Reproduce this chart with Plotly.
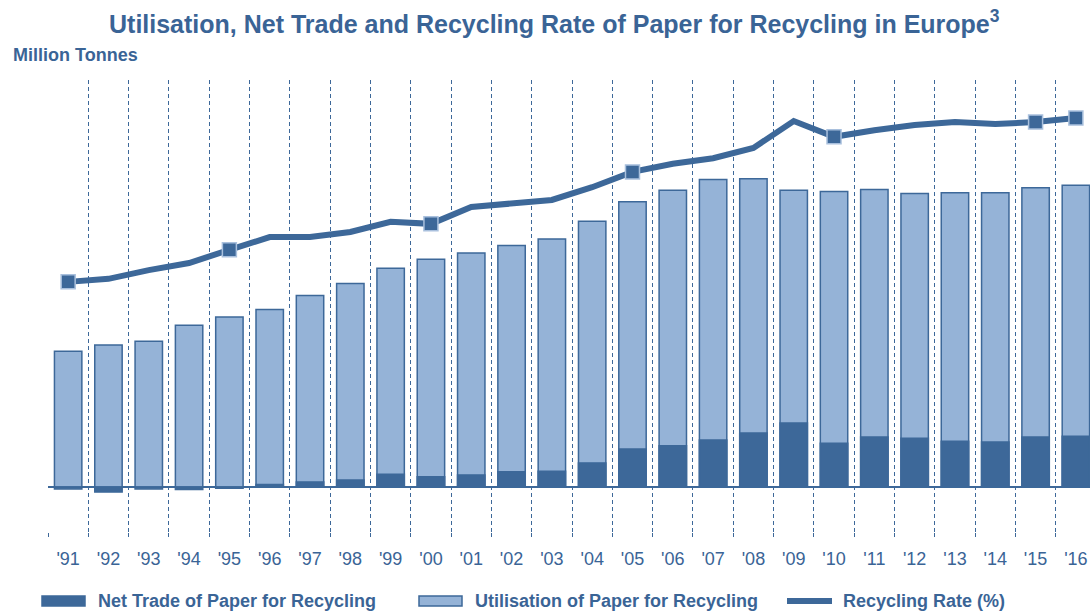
import plotly.graph_objects as go

years = ["'91", "'92", "'93", "'94", "'95", "'96", "'97", "'98", "'99", "'00",
         "'01", "'02", "'03", "'04", "'05", "'06", "'07", "'08", "'09", "'10",
         "'11", "'12", "'13", "'14", "'15", "'16"]
utilisation = [21.4, 22.4, 23.0, 25.5, 26.8, 28.0, 30.2, 32.1, 34.5, 35.9,
               36.9, 38.1, 39.1, 41.9, 45.0, 46.8, 48.5, 48.6, 46.8, 46.6,
               46.9, 46.3, 46.4, 46.4, 47.2, 47.6]
net_trade = [-0.3, -0.8, -0.3, -0.4, -0.2, 0.4, 0.8, 1.1, 2.0, 1.6,
             1.9, 2.4, 2.5, 3.8, 6.0, 6.5, 7.4, 8.5, 10.1, 6.9,
             7.9, 7.7, 7.2, 7.1, 7.9, 8.0]
recycling_rate = [40.3, 40.9, 42.6, 44.0, 46.6, 49.1, 49.1, 50.1, 52.1, 51.7,
                  55.0, 55.8, 56.4, 58.9, 61.9, 63.5, 64.6, 66.6, 71.9, 68.8,
                  70.1, 71.1, 71.7, 71.3, 71.7, 72.5]
marked_years = ["'91", "'95", "'00", "'05", "'10", "'15", "'16"]

DARK = "#3d6899"
LIGHT = "#95b3d7"
TEXT = "#3a6496"
FONT = "Liberation Sans, Arial, sans-serif"

W, H = 1090, 614
ML, MR, MT, MB = 48, 0, 80, 82
PW, PH = W - ML - MR, H - MT - MB


def px_x(p):
    return (p - ML) / PW


def px_y(p):
    return (H - MB - p) / PH


x = list(range(len(years)))
mk_idx = [years.index(y) for y in marked_years]

fig = go.Figure()
fig.add_trace(go.Bar(x=x, y=utilisation, name="Utilisation of Paper for Recycling",
                     marker=dict(color=LIGHT, line=dict(color=DARK, width=1.5)),
                     width=0.68))
fig.add_trace(go.Bar(x=x, y=net_trade, name="Net Trade of Paper for Recycling",
                     marker=dict(color=DARK, line=dict(color=DARK, width=1.5)),
                     width=0.68))
fig.add_trace(go.Scatter(x=x, y=recycling_rate, yaxis="y2", mode="lines",
                         line=dict(color=DARK, width=6), name="Recycling Rate (%)"))
fig.add_trace(go.Scatter(x=[x[i] for i in mk_idx], y=[recycling_rate[i] for i in mk_idx],
                         yaxis="y2", mode="markers",
                         marker=dict(symbol="square", size=14, color=DARK,
                                     line=dict(color="#a9c0dd", width=1.5))))

fig.update_layout(
    width=W, height=H,
    barmode="overlay",
    showlegend=False,
    plot_bgcolor="white", paper_bgcolor="white",
    margin=dict(l=ML, r=MR, t=MT, b=MB),
    font=dict(family=FONT, color=TEXT),
    xaxis=dict(
        range=[-0.5, 25.35],
        tickmode="array", tickvals=x, ticktext=years,
        ticks="", showgrid=False, zeroline=False, showline=False,
        tickfont=dict(size=18, color=TEXT),
        ticklabelstandoff=14,
        minor=dict(tick0=0.5, dtick=1, showgrid=True, griddash="4px,3px",
                   gridcolor=DARK, gridwidth=1, ticks="outside",
                   ticklen=4, tickcolor=DARK),
    ),
    yaxis=dict(range=[-7.10, 64.19], showgrid=False, zeroline=True,
               zerolinecolor=DARK, zerolinewidth=2, showticklabels=False,
               ticks=""),
    yaxis2=dict(range=[-8.84, 79.96], overlaying="y", side="right",
                showgrid=False, zeroline=False, showticklabels=False,
                ticks=""),
)

fig.add_annotation(text="<b>Utilisation, Net Trade and Recycling Rate of Paper for Recycling in Europe<sup>3</sup></b>",
                   xref="paper", yref="paper", x=px_x(554), y=px_y(22),
                   xanchor="center", yanchor="middle", showarrow=False,
                   font=dict(size=25, color=TEXT, family=FONT))
fig.add_annotation(text="<b>Million Tonnes</b>", xref="paper", yref="paper",
                   x=px_x(11), y=px_y(55), xanchor="left", yanchor="middle",
                   showarrow=False, font=dict(size=18, color=TEXT, family=FONT))

# manual legend
legend_items = [
    ("Net Trade of Paper for Recycling", "bar", DARK, 42, 96),
    ("Utilisation of Paper for Recycling", "bar", LIGHT, 419, 473),
    ("Recycling Rate (%)", "line", DARK, 787, 841),
]
ly = 601
for label, kind, col, px0, tx in legend_items:
    if kind == "bar":
        fig.add_shape(type="rect", xref="paper", yref="paper",
                      x0=px_x(px0), x1=px_x(px0 + 43),
                      y0=px_y(ly + 5), y1=px_y(ly - 5),
                      fillcolor=col, line=dict(color=DARK, width=1.5))
    else:
        fig.add_shape(type="line", xref="paper", yref="paper",
                      x0=px_x(px0), x1=px_x(px0 + 45),
                      y0=px_y(ly), y1=px_y(ly),
                      line=dict(color=DARK, width=6))
    fig.add_annotation(text="<b>" + label + "</b>", xref="paper", yref="paper",
                       x=px_x(tx), y=px_y(ly),
                       xanchor="left", yanchor="middle", showarrow=False,
                       font=dict(size=18, color=TEXT, family=FONT))

fig.write_html("out.html", config={"displayModeBar": False},
               post_script="document.body.style.margin='0';document.body.style.overflow='hidden';")
